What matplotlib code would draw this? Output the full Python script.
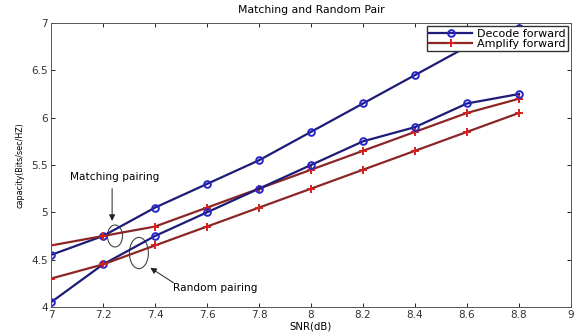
import matplotlib

matplotlib.use("Agg")
import matplotlib.pyplot as plt
from matplotlib.patches import Ellipse

snr = [7.0, 7.2, 7.4, 7.6, 7.8, 8.0, 8.2, 8.4, 8.6, 8.8]
df_matching = [4.55, 4.75, 5.05, 5.30, 5.55, 5.85, 6.15, 6.45, 6.75, 6.95]
df_random = [4.05, 4.45, 4.75, 5.00, 5.25, 5.50, 5.75, 5.90, 6.15, 6.25]
af_matching = [4.65, 4.75, 4.85, 5.05, 5.25, 5.45, 5.65, 5.85, 6.05, 6.20]
af_random = [4.30, 4.45, 4.65, 4.85, 5.05, 5.25, 5.45, 5.65, 5.85, 6.05]

plt.rcParams["font.family"] = ["DejaVu Sans"]

fig = plt.figure(figsize=(5.81, 3.32), dpi=100)
ax = fig.add_axes([0.0878, 0.0753, 0.895, 0.8554])

df_style = dict(color="#1c1c78", marker="o", markersize=4.8, markerfacecolor="none",
                markeredgecolor="#2626c8", markeredgewidth=1.4, linewidth=1.6)
af_style = dict(color="#8c2626", marker="+", markersize=5.5, markeredgecolor="#d42020",
                markeredgewidth=1.4, linewidth=1.6)

ax.plot(snr, df_matching, label="Decode forward", **df_style)
ax.plot(snr, af_matching, label="Amplify forward", **af_style)
ax.plot(snr, df_random, **df_style)
ax.plot(snr, af_random, **af_style)

ax.set_xlim(7, 9)
ax.set_ylim(4, 7)
ax.set_xticks([7, 7.2, 7.4, 7.6, 7.8, 8, 8.2, 8.4, 8.6, 8.8, 9])
ax.set_xticklabels(["7", "7.2", "7.4", "7.6", "7.8", "8", "8.2", "8.4", "8.6", "8.8", "9"])
ax.set_yticks([4, 4.5, 5, 5.5, 6, 6.5, 7])
ax.set_yticklabels(["4", "4.5", "5", "5.5", "6", "6.5", "7"])
ax.tick_params(direction="in", top=True, right=True, labelsize=7.5, length=3, width=0.6,
               pad=2, labelcolor="#333333")
for s in ax.spines.values():
    s.set_linewidth(0.7)
    s.set_color("#555555")

ax.set_title("Matching and Random Pair", fontsize=7.8, pad=7.5)
ax.set_xlabel("SNR(dB)", fontsize=7.3, labelpad=1)
ax.set_ylabel("capacity(Bits/sec/HZ)", fontsize=5.8, labelpad=5)

ax.legend(loc="upper right", fontsize=8, handlelength=3.9, borderpad=0.2,
          labelspacing=0.05, handletextpad=0.4, fancybox=False, framealpha=1,
          edgecolor="#333333", borderaxespad=0.3)

# annotation ellipses and arrows
ax.add_patch(Ellipse((7.246, 4.75), 0.058, 0.232, fill=False, edgecolor="#444444", linewidth=0.8))
ax.add_patch(Ellipse((7.338, 4.57), 0.073, 0.33, fill=False, edgecolor="#444444", linewidth=0.8))
ax.text(7.073, 5.37, "Matching pairing", fontsize=7.6, va="center", ha="left")
ax.annotate("", xy=(7.235, 4.88), xytext=(7.235, 5.28),
            arrowprops=dict(arrowstyle="-|>", color="#222222", lw=0.7, mutation_scale=9))
ax.text(7.47, 4.20, "Random pairing", fontsize=7.6, va="center", ha="left")
ax.annotate("", xy=(7.373, 4.43), xytext=(7.48, 4.24),
            arrowprops=dict(arrowstyle="-|>", color="#222222", lw=0.7, mutation_scale=9))

fig.savefig("out.png")
